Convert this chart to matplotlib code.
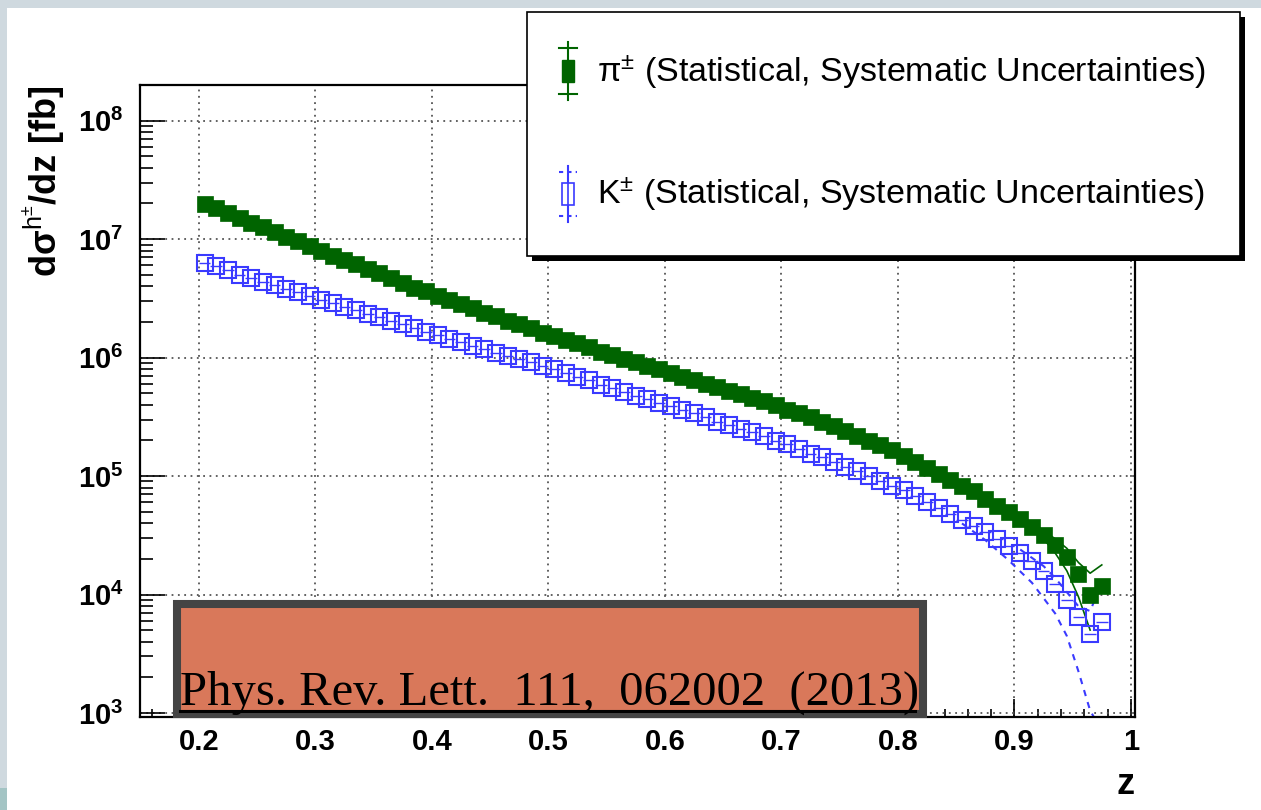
import matplotlib
matplotlib.use("Agg")
import numpy as np
import matplotlib.pyplot as plt
from matplotlib.patches import Rectangle
from matplotlib.lines import Line2D
from matplotlib.ticker import FixedLocator, LogLocator, NullFormatter, LogFormatterSciNotation

plt.rcParams['font.family'] = ['Liberation Sans', 'DejaVu Sans']
plt.rcParams['mathtext.fontset'] = 'custom'
plt.rcParams['mathtext.rm'] = 'Liberation Sans'
plt.rcParams['mathtext.it'] = 'Liberation Sans:italic'
plt.rcParams['mathtext.bf'] = 'Liberation Sans:bold'

# bin centres in z
z = [0.205, 0.215, 0.225, 0.235, 0.245, 0.255, 0.265, 0.275, 0.285, 0.295,
     0.305, 0.315, 0.325, 0.335, 0.345, 0.355, 0.365, 0.375, 0.385, 0.395,
     0.405, 0.415, 0.425, 0.435, 0.445, 0.455, 0.465, 0.475, 0.485, 0.495,
     0.505, 0.515, 0.525, 0.535, 0.545, 0.555, 0.565, 0.575, 0.585, 0.595,
     0.605, 0.615, 0.625, 0.635, 0.645, 0.655, 0.665, 0.675, 0.685, 0.695,
     0.705, 0.715, 0.725, 0.735, 0.745, 0.755, 0.765, 0.775, 0.785, 0.795,
     0.805, 0.815, 0.825, 0.835, 0.845, 0.855, 0.865, 0.875, 0.885, 0.895,
     0.905, 0.915, 0.925, 0.935, 0.945, 0.955, 0.965, 0.975]

# log10 of dsigma/dz [fb]
pi_log10 = [7.30, 7.26, 7.22, 7.18, 7.14, 7.10, 7.06, 7.02, 6.98, 6.94,
            6.90, 6.86, 6.82, 6.79, 6.75, 6.71, 6.67, 6.63, 6.59, 6.56,
            6.52, 6.49, 6.45, 6.42, 6.38, 6.35, 6.31, 6.28, 6.25, 6.21,
            6.18, 6.15, 6.12, 6.09, 6.05, 6.02, 5.99, 5.96, 5.93, 5.90,
            5.87, 5.84, 5.81, 5.78, 5.75, 5.72, 5.69, 5.66, 5.63, 5.60,
            5.56, 5.53, 5.50, 5.46, 5.42, 5.38, 5.34, 5.30, 5.26, 5.22,
            5.17, 5.12, 5.07, 5.02, 4.97, 4.92, 4.87, 4.81, 4.75, 4.70,
            4.64, 4.57, 4.50, 4.42, 4.32, 4.17, 4.00, 4.07]

k_log10 = [6.80, 6.77, 6.74, 6.70, 6.67, 6.64, 6.61, 6.58, 6.55, 6.52,
           6.49, 6.46, 6.43, 6.40, 6.37, 6.34, 6.31, 6.28, 6.25, 6.22,
           6.19, 6.16, 6.13, 6.10, 6.07, 6.04, 6.01, 5.99, 5.96, 5.93,
           5.90, 5.87, 5.84, 5.81, 5.77, 5.74, 5.71, 5.68, 5.65, 5.62,
           5.59, 5.56, 5.53, 5.50, 5.46, 5.43, 5.40, 5.37, 5.34, 5.30,
           5.27, 5.23, 5.19, 5.16, 5.12, 5.08, 5.04, 5.00, 4.96, 4.92,
           4.88, 4.83, 4.78, 4.73, 4.68, 4.63, 4.58, 4.53, 4.47, 4.41,
           4.35, 4.28, 4.20, 4.09, 3.95, 3.81, 3.67, 3.77]

# systematic band edges near the end point
pi_sys_z = [0.905, 0.915, 0.925, 0.935, 0.945, 0.955, 0.965, 0.975]
pi_sys_up = [4.66, 4.60, 4.54, 4.47, 4.39, 4.27, 4.18, 4.25]
pi_sys_lo_z = [0.905, 0.915, 0.925, 0.935, 0.945, 0.955, 0.965]
pi_sys_lo = [4.62, 4.55, 4.47, 4.35, 4.20, 3.98, 3.70]
k_sys_up_z = [0.905, 0.915, 0.925, 0.935, 0.945, 0.955, 0.965, 0.975]
k_sys_up = [4.38, 4.31, 4.24, 4.14, 4.02, 3.90, 3.86, 4.10]
k_sys_lo_z = [0.855, 0.875, 0.895, 0.915, 0.935, 0.945, 0.955, 0.965, 0.975]
k_sys_lo = [4.60, 4.46, 4.29, 4.10, 3.84, 3.65, 3.35, 3.02, 2.85]

x_ticks = [0.2, 0.3, 0.4, 0.5, 0.6, 0.7, 0.8, 0.9, 1.0]
x_ticklabels = ['0.2', '0.3', '0.4', '0.5', '0.6', '0.7', '0.8', '0.9', '1']

green = '#006400'
blue = '#3a3aff'

W, H = 1261, 810
def fx(px):
    return px / W
def fy(py):
    return 1 - py / H

fig = plt.figure(figsize=(12.61, 8.10), dpi=100)
fig.patch.set_facecolor('#cfd9df')
fig.add_artist(Rectangle((fx(7), 0), 1, fy(8), transform=fig.transFigure,
                         facecolor='white', edgecolor='none', zorder=-10))
fig.add_artist(Rectangle((0, 0), fx(7), 22 / H, transform=fig.transFigure,
                         facecolor='#a3c4c4', edgecolor='none', zorder=-9))

ax = fig.add_axes([fx(140), fy(717), fx(1135) - fx(140), fy(85) - fy(717)])
ax.set_facecolor('white')

pi_vals = 10 ** np.array(pi_log10)
k_vals = 10 ** np.array(k_log10)

# systematic bands as thin lines
ax.plot(pi_sys_z, 10 ** np.array(pi_sys_up), color=green, lw=1.2, zorder=2)
ax.plot(pi_sys_lo_z, 10 ** np.array(pi_sys_lo), color=green, lw=1.2, zorder=2)
ax.plot(k_sys_up_z, 10 ** np.array(k_sys_up), color=blue, lw=1.5, ls=(0, (3, 3)), zorder=2)
ax.plot(k_sys_lo_z, 10 ** np.array(k_sys_lo), color=blue, lw=1.5, ls=(0, (3, 3)), zorder=2)

ax.errorbar(z, k_vals, xerr=0.005, fmt='none', ecolor=blue, elinewidth=1.0, zorder=3)
ax.plot(z, k_vals, 's', ms=11.5, mfc='none', mec=blue, mew=1.5, zorder=3)
ax.plot(z, pi_vals, 's', ms=12, mfc=green, mec=green, mew=0.5, zorder=4)

ax.set_yscale('log')
ax.set_xlim(0.1495, 1.0035)
ax.set_ylim(925, 2.0e8)

ax.xaxis.set_major_locator(FixedLocator(x_ticks))
ax.set_xticklabels(x_ticklabels)
ax.xaxis.set_minor_locator(FixedLocator([0.16 + 0.02 * i for i in range(43)]))
ax.yaxis.set_major_locator(LogLocator(base=10, numticks=10))
ax.yaxis.set_major_formatter(LogFormatterSciNotation())
ax.yaxis.set_minor_locator(LogLocator(base=10, subs=range(2, 10), numticks=20))
ax.yaxis.set_minor_formatter(NullFormatter())

ax.tick_params(axis='both', which='both', direction='in', top=False, right=False, width=1.2)
ax.tick_params(axis='y', which='major', length=18, pad=12, labelsize=21)
ax.tick_params(axis='y', which='minor', length=9)
ax.tick_params(axis='x', which='major', length=13, pad=8, labelsize=21)
ax.tick_params(axis='x', which='minor', length=6)
for lab in ax.get_xticklabels() + ax.get_yticklabels():
    lab.set_fontweight('bold')

ax.grid(True, which='major', linestyle=(0, (1, 2.5)), color='#555555', linewidth=1.3)
for sp in ax.spines.values():
    sp.set_linewidth(1.6)
    sp.set_color('black')

fig.text(fx(44), fy(86), r'd' + 'σ' + r'$^{\mathrm{h}^{\pm}}$/dz [fb]', rotation=90, ha='center', va='top',
         fontsize=26, fontweight='bold')
fig.text(fx(1125), fy(785), 'z', ha='center', va='center', fontsize=26, fontweight='bold')

# legend box with shadow
fig.add_artist(Rectangle((fx(532), fy(261)), fx(1245) - fx(532), fy(17) - fy(261),
                         transform=fig.transFigure, facecolor='black', edgecolor='none', zorder=5))
fig.add_artist(Rectangle((fx(527), fy(256)), fx(1240) - fx(527), fy(12) - fy(256),
                         transform=fig.transFigure, facecolor='white', edgecolor='black',
                         linewidth=1.2, zorder=6))
tf = fig.transFigure
fig.add_artist(Line2D([fx(568), fx(568)], [fy(42), fy(100)], transform=tf, color=green, lw=1.5, zorder=7))
for yy in (48, 94):
    fig.add_artist(Line2D([fx(559), fx(577)], [fy(yy), fy(yy)], transform=tf, color=green, lw=1.5, zorder=7))
fig.add_artist(Rectangle((fx(562), fy(82)), fx(574) - fx(562), fy(60) - fy(82), transform=tf,
                         facecolor=green, edgecolor=green, zorder=8))
fig.add_artist(Line2D([fx(568), fx(568)], [fy(166), fy(222)], transform=tf, color=blue, lw=1.5, zorder=7))
for yy in (172, 216):
    fig.add_artist(Line2D([fx(559), fx(577)], [fy(yy), fy(yy)], transform=tf, color=blue, lw=1.5,
                          ls=(0, (2, 2)), zorder=7))
fig.add_artist(Rectangle((fx(562), fy(205)), fx(574) - fx(562), fy(183) - fy(205), transform=tf,
                         facecolor='white', edgecolor=blue, lw=1.2, zorder=8))
fig.add_artist(Line2D([fx(568), fx(568)], [fy(183), fy(205)], transform=tf, color=blue, lw=1.2, zorder=9))
fig.text(fx(597), fy(72), 'π' + r'$^{\pm}$ (Statistical, Systematic Uncertainties)', va='center',
         fontsize=24.5, zorder=8)
fig.text(fx(597), fy(194), r'K$^{\pm}$ (Statistical, Systematic Uncertainties)', va='center',
         fontsize=24.5, zorder=8)

# citation box
fig.add_artist(Rectangle((fx(177), fy(714)), fx(923) - fx(177), fy(604) - fy(714),
                         transform=tf, facecolor='#d9785a', edgecolor='#444444', linewidth=5.8, zorder=9))
fig.text(fx(180), fy(705), 'Phys. Rev. Lett.  111,  062002  (2013)', family='Liberation Serif',
         fontsize=35, va='baseline', ha='left', zorder=10)
fig.add_artist(Line2D([fx(180), fx(915)], [fy(711), fy(711)], transform=tf, color='black', lw=2.2, zorder=10))

fig.savefig('out.png', dpi=100, facecolor=fig.get_facecolor())
